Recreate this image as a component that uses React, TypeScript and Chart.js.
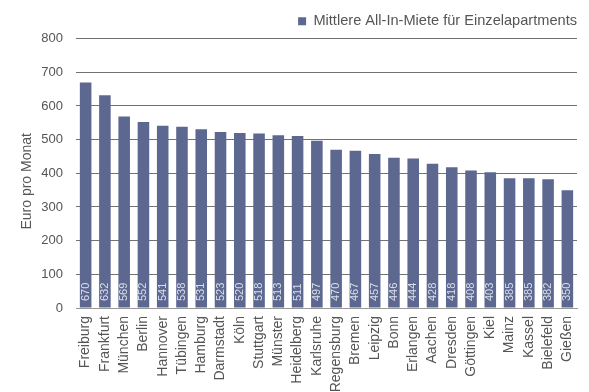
import React, { useEffect, useRef } from "react";
import { Chart, registerables } from "chart.js";

Chart.register(...registerables);

const cities = [
  "Freiburg", "Frankfurt", "München", "Berlin", "Hannover", "Tübingen", "Hamburg",
  "Darmstadt", "Köln", "Stuttgart", "Münster", "Heidelberg", "Karlsruhe", "Regensburg",
  "Bremen", "Leipzig", "Bonn", "Erlangen", "Aachen", "Dresden", "Göttingen", "Kiel",
  "Mainz", "Kassel", "Bielefeld", "Gießen",
];
const rents = [
  670, 632, 569, 552, 541, 538, 531, 523, 520, 518, 513, 511, 497, 470,
  467, 457, 446, 444, 428, 418, 408, 403, 385, 385, 382, 350,
];
const seriesLabel = "Mittlere All-In-Miete für Einzelapartments";
const yTitle = "Euro pro Monat";

const FONT = "'Liberation Sans', Arial, Helvetica, sans-serif";

const valueLabels = {
  id: "valueLabels",
  afterDatasetsDraw(chart: any) {
    const ctx = chart.ctx;
    const meta = chart.getDatasetMeta(0);
    const base = chart.scales.y.getPixelForValue(0);
    ctx.save();
    ctx.font = `11px ${FONT}`;
    ctx.fillStyle = "#dcdfea";
    ctx.textAlign = "left";
    ctx.textBaseline = "middle";
    meta.data.forEach((bar: any, i: number) => {
      ctx.save();
      ctx.translate(bar.x, base - 7);
      ctx.rotate(-Math.PI / 2);
      ctx.fillText(String(rents[i]), 0, 0);
      ctx.restore();
    });
    ctx.restore();
  },
};

const yTitlePlugin = {
  id: "yTitlePlugin",
  afterDraw(chart: any) {
    const ctx = chart.ctx;
    const y = chart.scales.y;
    ctx.save();
    ctx.font = `14px ${FONT}`;
    ctx.fillStyle = "#555";
    ctx.textAlign = "center";
    ctx.textBaseline = "middle";
    ctx.translate(y.left + 9, (y.top + y.bottom) / 2 + 8);
    ctx.rotate(-Math.PI / 2);
    ctx.fillText(yTitle, 0, 0);
    ctx.restore();
  },
};

export default function App() {
  const ref = useRef<HTMLCanvasElement>(null);
  useEffect(() => {
    document.body.style.margin = "0";
    const chart = new Chart(ref.current!, {
      type: "bar",
      data: {
        labels: cities,
        datasets: [
          {
            label: seriesLabel,
            data: rents,
            backgroundColor: "#5d6890",
            barPercentage: 0.6,
            categoryPercentage: 1,
          },
        ],
      },
      options: {
        animation: false,
        responsive: false,
        maintainAspectRatio: false,
        layout: { padding: { left: 18, right: 2, top: 4, bottom: 0 } },
        plugins: {
          legend: {
            position: "top",
            align: "end",
            labels: {
              boxWidth: 8,
              boxHeight: 8,
              padding: 10,
              color: "#555",
              font: { family: FONT, size: 14.6 },
            },
          },
          tooltip: { enabled: false },
        },
        scales: {
          x: {
            grid: { display: false, drawTicks: false },
            border: { color: "#999", width: 1 },
            afterFit(scale: any) {
              scale.height = 84;
              scale.paddingLeft = 0;
              scale.paddingRight = 0;
            },
            ticks: {
              minRotation: 90,
              maxRotation: 90,
              autoSkip: false,
              padding: 8,
              color: "#555",
              font: { family: FONT, size: 14 },
            },
          },
          y: {
            min: 0,
            max: 800,
            grid: { color: "#727272", drawTicks: false },
            border: { display: false },
            afterFit(scale: any) {
              scale.width = 58;
            },
            ticks: {
              stepSize: 100,
              padding: 13,
              color: "#555",
              font: { family: FONT, size: 13 },
            },
          },
          yR: {
            position: "right",
            display: true,
            grid: { display: false, drawTicks: false },
            border: { display: false },
            ticks: { display: false },
            afterFit(scale: any) {
              scale.width = 10;
            },
          },
        },
      },
      plugins: [valueLabels, yTitlePlugin],
    });
    return () => chart.destroy();
  }, []);
  return (
    <div style={{ width: 589, height: 392 }}>
      <canvas ref={ref} width={589} height={392} style={{ display: "block" }} />
    </div>
  );
}
